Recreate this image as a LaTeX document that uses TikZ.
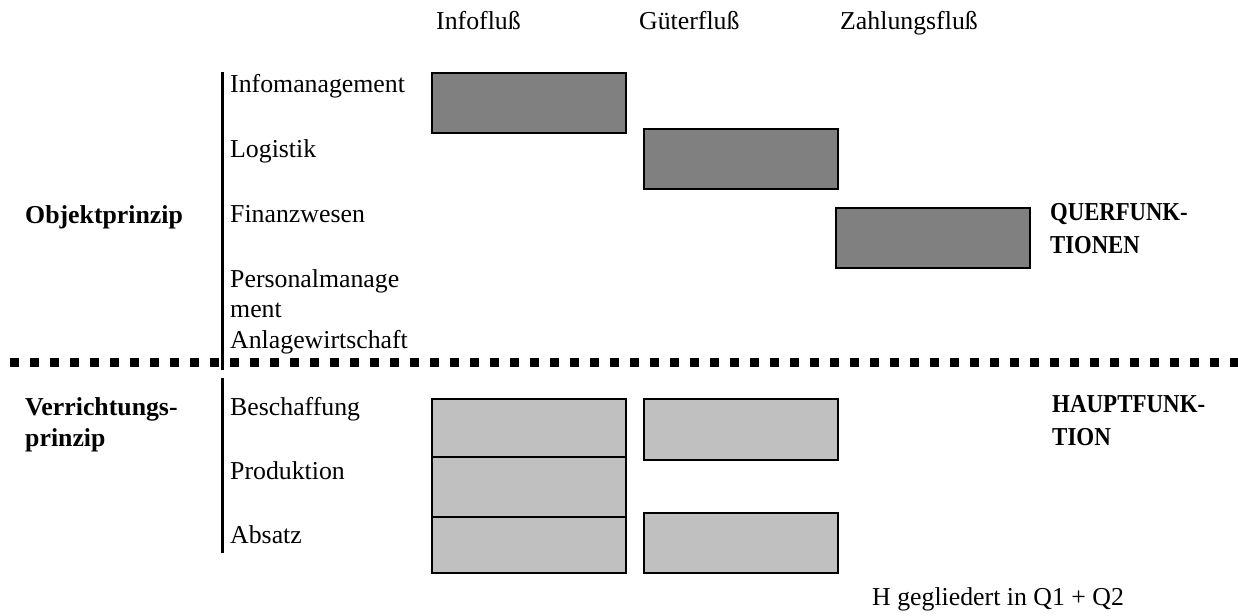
\documentclass[tikz,border=0pt]{standalone}
\usepackage{fontspec}
\setmainfont{Liberation Serif}
\begin{document}
\begin{tikzpicture}[x=1pt,y=-1pt,
  lbl/.style={anchor=base west,inner sep=0pt,font=\fontsize{25.8}{31}\selectfont},
  blbl/.style={lbl,font=\fontsize{25.8}{31}\selectfont\bfseries},
  darkbox/.style={draw=black,line width=2pt,fill={rgb,255:red,128;green,128;blue,128},anchor=north west,inner sep=0pt,minimum width=194pt,minimum height=60pt},
  lightbox/.style={draw=black,line width=2pt,fill={rgb,255:red,192;green,192;blue,192},anchor=north west,inner sep=0pt,minimum width=194pt},
  sep/.style={line width=3pt}]
\useasboundingbox (0,0) rectangle (1238,615);
% column headers
\node[lbl] (h1) at (436,30) {Infofluß};
\node[lbl] (h2) at (639,30) {Güterfluß};
\node[lbl] (h3) at (840,30) {Zahlungsfluß};
% upper section
\coordinate (v1t) at (222.5,72);
\coordinate (v1b) at (222.5,370);
\draw[sep] (v1t) -- (v1b);
\node[lbl] (t1) at (230,93) {Infomanagement};
\node[lbl] (t2) at (230,157) {Logistik};
\node[lbl] (t3) at (230,222) {Finanzwesen};
\node[lbl] (t4) at (230,287) {Personalmanage};
\node[lbl] (t5) at (230,317) {ment};
\node[lbl] (t6) at (230,348) {Anlagewirtschaft};
\node[blbl] (op) at (25,223) {Objektprinzip};
\node[blbl] (q1) at (1050,220) {\scalebox{0.88}[1]{QUERFUNK-}};
\node[blbl] (q2) at (1050,253) {\scalebox{0.88}[1]{TIONEN}};
\node[darkbox] (d1) at (431,72) {};
\node[darkbox] (d2) at (643,128) {};
\node[darkbox] (d3) at (835,206.5) {};
% dashed separator
\coordinate (dl) at (10,362.5);
\coordinate (dr) at (1238,362.5);
\draw[line width=9pt,dash pattern=on 9pt off 11pt] (dl) -- (dr);
% lower section
\coordinate (v2t) at (222.5,378);
\coordinate (v2b) at (222.5,553);
\draw[sep] (v2t) -- (v2b);
\node[lbl] (b1) at (230,415) {Beschaffung};
\node[lbl] (b2) at (230,479) {Produktion};
\node[lbl] (b3) at (230,543) {Absatz};
\node[blbl] (vp1) at (25,415) {Verrichtungs-};
\node[blbl] (vp2) at (25,446) {prinzip};
\node[blbl] (hf1) at (1052,412) {\scalebox{0.89}[1]{HAUPTFUNK-}};
\node[blbl] (hf2) at (1052,445) {\scalebox{0.89}[1]{TION}};
\node[lightbox,minimum height=58pt] (l1) at (431,398) {};
\node[lightbox,minimum height=60pt] (l2) at (431,456) {};
\node[lightbox,minimum height=56pt] (l3) at (431,516) {};
\node[lightbox,minimum height=61pt] (r1) at (643,398) {};
\node[lightbox,minimum height=60pt] (r2) at (643,512) {};
\node[lbl] (note) at (872,605) {H gegliedert in Q1 + Q2};
\end{tikzpicture}
\end{document}
